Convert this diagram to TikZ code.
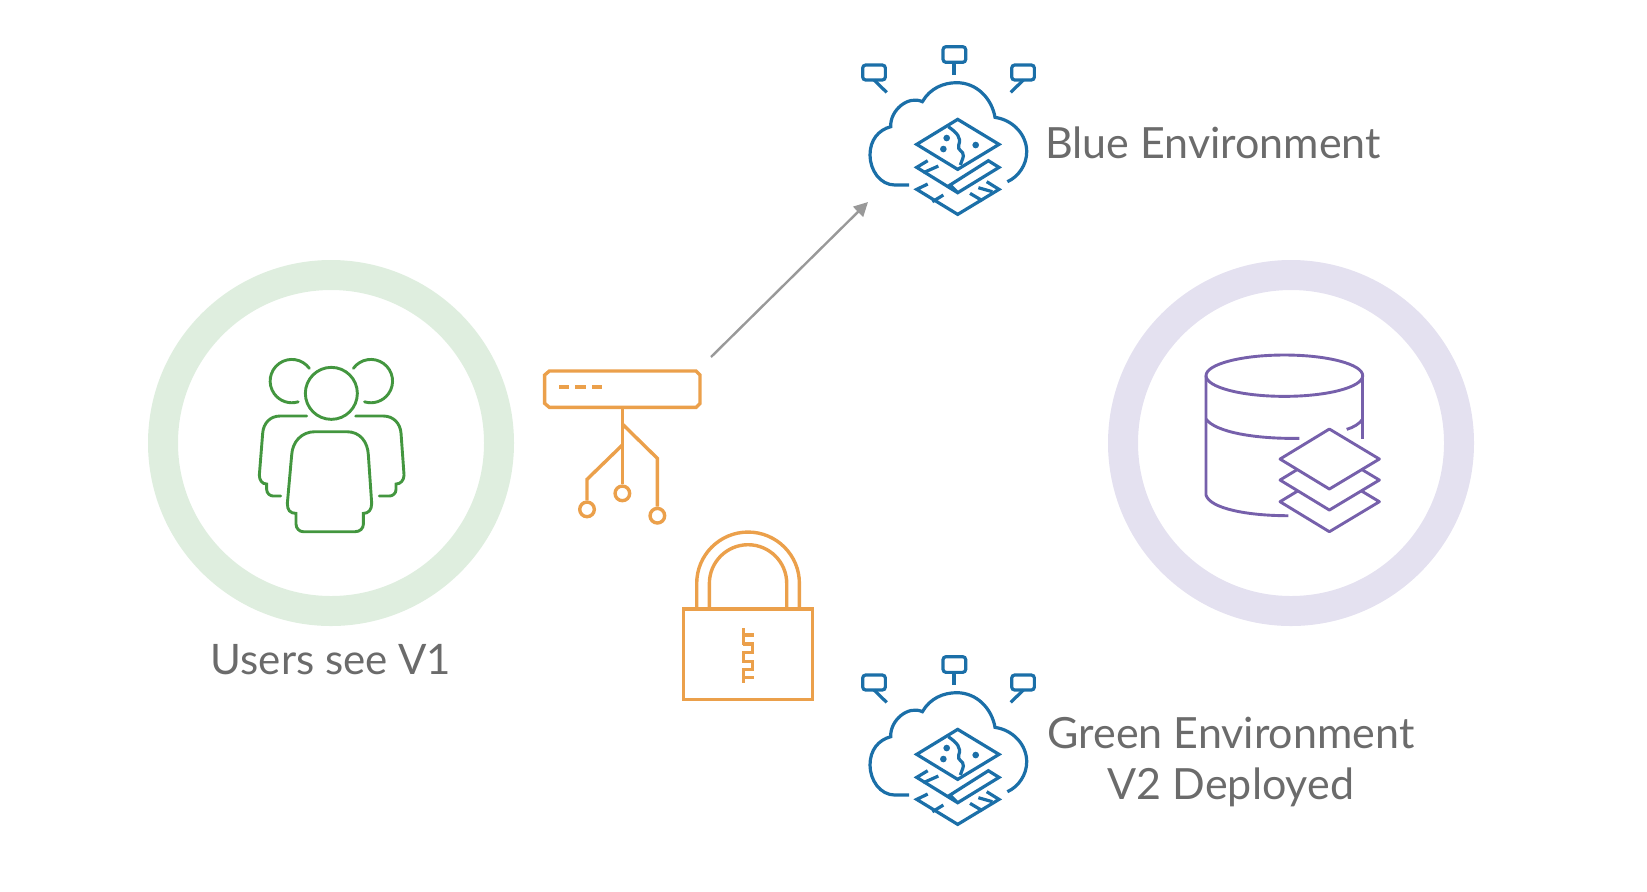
\documentclass[tikz,border=0pt]{standalone}
\usepackage{fontspec}
\setmainfont{Lato}
\usetikzlibrary{arrows.meta}
\definecolor{cloudblue}{HTML}{1B6FA8}
\definecolor{usergreen}{HTML}{43963F}
\definecolor{gateorange}{HTML}{EBA04B}
\definecolor{dbpurple}{HTML}{7660AB}
\definecolor{ringgreen}{HTML}{DFEEDF}
\definecolor{ringpurple}{HTML}{E4E1F0}
\definecolor{labelgray}{HTML}{6B6B6B}
\tikzset{
	ring/.style={line width=15pt,draw=#1},
	labeltext/.style={text=labelgray,font=\fontsize{21.5}{25.2}\selectfont,align=center},
	cloudline/.style={draw=cloudblue,line width=1.6pt},
	userline/.style={draw=usergreen,line width=1.45pt,line cap=round},
	gateline/.style={draw=gateorange,line width=1.7pt},
	dbline/.style={draw=dbpurple,line width=1.45pt},
	cloudicon/.pic={
		\draw[cloudline] (177,465) to (135,465) .. controls (90,465) and (60,420) .. (60,375) .. controls (60,330) and (85,300) .. (122,290) .. controls (120,240) and (175,195) .. (217,215) .. controls (240,175) and (280,158) .. (320,158) .. controls (380,158) and (425,205) .. (435,262) .. controls (490,270) and (530,315) .. (530,365) .. controls (530,405) and (505,440) .. (472,455);
		\draw[cloudline,rounded corners=1.5pt] (38,105) rectangle (106,150);
		\draw[cloudline] (72,150) to (110,187);
		\draw[cloudline,rounded corners=1.5pt] (279,50) rectangle (347,97);
		\draw[cloudline] (312,97) to (312,135);
		\draw[cloudline,rounded corners=1.5pt] (485,105) rectangle (553,150);
		\draw[cloudline] (520,150) to (482,187);
		\draw[cloudline] (323,268) to (447,343) to (323,418) to (200,343) to cycle;
		\draw[cloudline] (295,290) .. controls (320,308) and (335,322) .. (326,345) .. controls (320,362) and (342,362) .. (340,378) .. controls (338,390) and (332,398) .. (331,405);
		\fill[cloudblue] (290,324) circle (10);
		\fill[cloudblue] (280,357) circle (10);
		\fill[cloudblue] (377,345) circle (10);
		\draw[cloudline] (233,392) to (200,412) to (323,488) to (447,412) to (415,392) to (300,465) to (323,488);
		\draw[cloudline] (220,428) to (265,408);
		\draw[cloudline] (233,462) to (200,478) to (323,553) to (447,478) to (410,455);
		\draw[cloudline] (247,515) to (280,495);
		\draw[cloudline] (360,490) to (397,512);
		\draw[cloudline] (385,473) to (427,485);
	}
}
\begin{document}
\begin{tikzpicture}[x=0.5pt,y=-0.5pt]
	\useasboundingbox (0,0) rectangle (1647,891);
	% rings
	\node[circle,ring=ringgreen,minimum size=168pt,inner sep=0pt] (usersring) at (331,443) {};
	\node[circle,ring=ringpurple,minimum size=168pt,inner sep=0pt] (dbring) at (1291,443) {};
	% labels
	\node[labeltext,font=\fontsize{21}{25.2}\selectfont] (userslabel) at (331,660) {Users see V1};
	\node[labeltext] (bluelabel) at (1213,143) {Blue Environment};
	\node[labeltext] (greenlabel) at (1231,762) {Green Environment\\V2 Deployed};
	% clouds
	\begin{scope}[shift={(850,30)},x=0.1667pt,y=-0.1667pt]
		\pic at (0,0) {cloudicon};
	\end{scope}
	\begin{scope}[shift={(850,640)},x=0.1667pt,y=-0.1667pt]
		\pic at (0,0) {cloudicon};
	\end{scope}
	% users
	\begin{scope}[shift={(240,340)},x=0.1667pt,y=-0.1667pt]
		\draw[userline] (274,160) circle (78);
		\draw[userline] (208,85) arc[start angle=-36,end angle=-287,radius=65];
		\draw[userline] (340,85) arc[start angle=216,end angle=467,radius=65];
		\draw[userline] (225,275) to (320,275) .. controls (360,275) and (383,305) .. (385,345) to (395,490) .. controls (395,510) and (385,520) .. (370,520) to (370,552) .. controls (370,565) and (360,575) .. (345,575) to (190,575) .. controls (178,575) and (168,565) .. (168,552) to (168,520) .. controls (150,520) and (142,510) .. (142,490) to (155,345) .. controls (157,305) and (185,275) .. (225,275) -- cycle;
		\draw[userline] (200,228) to (120,228) .. controls (90,228) and (70,250) .. (68,280) to (58,405) .. controls (58,420) and (66,432) .. (80,432) to (80,448) .. controls (80,460) and (90,468) .. (100,468) to (122,468);
		\draw[userline] (347,228) to (430,228) .. controls (460,228) and (481,250) .. (483,280) to (492,405) .. controls (492,420) and (482,432) .. (468,432) to (468,448) .. controls (468,460) and (458,468) .. (448,468) to (418,468);
	\end{scope}
	% gateway and lock
	\begin{scope}[shift={(530,350)},x=0.1667pt,y=-0.1667pt]
		\draw[gateline] (58,63) to (498,63) to (510,75) to (510,160) to (498,172) to (58,172) to (44,160) to (44,75) to cycle;
		\draw[gateline,line width=2.1pt] (88,112) to (118,112);
		\draw[gateline,line width=2.1pt] (136,112) to (168,112);
		\draw[gateline,line width=2.1pt] (186,112) to (216,112);
		\node[circle,gateline,minimum size=7.3pt,inner sep=0pt] (midport) at (277,430) {};
		\node[circle,gateline,minimum size=7.3pt,inner sep=0pt] (rightport) at (382,497) {};
		\node[circle,gateline,minimum size=7.3pt,inner sep=0pt] (leftport) at (171,478) {};
		\coordinate (gatebase) at (277,172);
		\draw[gateline] (gatebase) to (midport);
		\draw[gateline] (277,222) to (382,325) to (rightport);
		\draw[gateline] (277,285) to (171,388) to (leftport);
		\draw[gateline] (460,777) rectangle (848,1048);
		\draw[gateline] (500,777) to (500,700) arc[start angle=180,end angle=360,radius=154] to (808,777);
		\draw[gateline] (538,777) to (538,700) arc[start angle=180,end angle=360,radius=116] to (770,777);
		\draw[gateline] (640,835) to (640,885);
		\draw[gateline] (640,855) to (673,855);
		\draw[gateline] (640,882) to (667,882) to (667,907) to (640,907) to (640,935) to (667,935) to (667,958) to (640,958) to (640,1000);
		\draw[gateline] (640,982) to (673,982);
	\end{scope}
	% database
	\begin{scope}[shift={(1190,340)},x=0.1667pt,y=-0.1667pt]
		\draw[dbline] (283,107) ellipse (235 and 62);
		\draw[dbline] (48,107) to (48,465) .. controls (60,505) and (170,527) .. (295,527);
		\draw[dbline] (48,237) .. controls (75,275) and (190,297) .. (328,295);
		\draw[dbline] (470,268) .. controls (490,262) and (508,252) .. (518,237);
		\draw[dbline] (518,107) to (518,298);
		\foreach \y in {485,420,357}
			\draw[dbline,fill=white,line join=round] (418,\y-90) to (568,\y) to (418,\y+90) to (270,\y) to cycle;
	\end{scope}
	% arrow
	\coordinate (arrowstart) at (711,357);
	\coordinate (arrowend) at (868,202);
	\draw[-{Stealth[inset=0pt,length=7pt,width=7pt]},draw=gray!80,fill=gray!80,line width=1.2pt] (arrowstart) to (arrowend);
\end{tikzpicture}
\end{document}
